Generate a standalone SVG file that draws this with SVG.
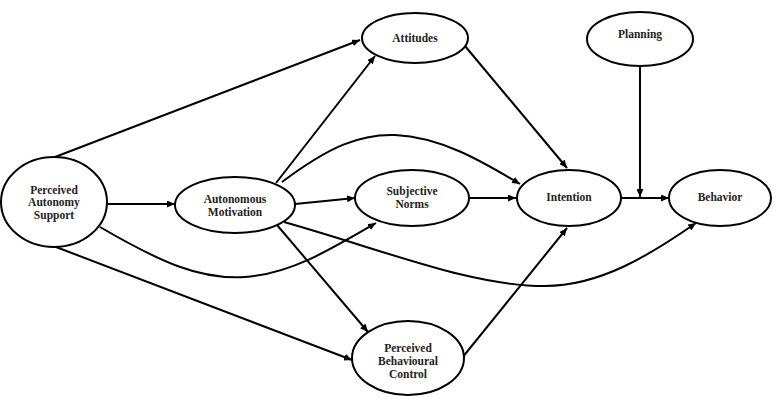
<svg xmlns="http://www.w3.org/2000/svg" width="776" height="403" viewBox="0 0 776 403">
<style>
.node ellipse{fill:#fff;stroke:#000;stroke-width:2}
.node text{font-family:"Liberation Serif","Times New Roman",serif;font-weight:bold;font-size:11.5px;fill:#222;text-anchor:middle}
.edge{fill:none;stroke:#000;stroke-width:2;marker-end:url(#arr)}
</style>
<defs>
<marker id="arr" markerUnits="userSpaceOnUse" markerWidth="8" markerHeight="7" refX="8" refY="3.5" orient="auto">
<path d="M0,0 L8,3.5 L0,7 z" fill="#000"/>
</marker>
</defs>
<rect width="776" height="403" fill="#fff"/>
<g id="connectors">
<path class="edge" d="M55,157 L360,40"/>
<path class="edge" d="M108,204 L175,204"/>
<path class="edge" d="M100,227 C160,262 200,280 245,277 C290,274 330,250 376,223"/>
<path class="edge" d="M56,247 L352,360"/>
<path class="edge" d="M276,183 L375,56"/>
<path class="edge" d="M282,182 C330,146 360,134 395,135 C440,137 480,160 520,184"/>
<path class="edge" d="M295,204 L355,198"/>
<path class="edge" d="M277,225 L368,332"/>
<path class="edge" d="M284,222 C390,252 470,286 545,286 C600,286 650,255 696,223"/>
<path class="edge" d="M465,46 L567,168"/>
<path class="edge" d="M469,198 L516,198"/>
<path class="edge" d="M462,358 L567,228"/>
<path class="edge" d="M622,198 L669,198"/>
<path class="edge" d="M640,66 L640,197"/>
</g>
<g id="pas" class="node">
<ellipse cx="54" cy="202" rx="53" ry="45"/>
<text x="54" y="194">Perceived</text>
<text x="54" y="206">Autonomy</text>
<text x="54" y="219">Support</text>
</g>
<g id="am" class="node">
<ellipse cx="235" cy="205" rx="60" ry="28"/>
<text x="235" y="203">Autonomous</text>
<text x="235" y="216">Motivation</text>
</g>
<g id="attitudes" class="node">
<ellipse cx="415" cy="38" rx="53" ry="25"/>
<text x="415" y="42">Attitudes</text>
</g>
<g id="planning" class="node">
<ellipse cx="640" cy="39" rx="53" ry="27"/>
<text x="640" y="38">Planning</text>
</g>
<g id="sn" class="node">
<ellipse cx="412" cy="198" rx="57" ry="28"/>
<text x="412" y="195">Subjective</text>
<text x="412" y="208">Norms</text>
</g>
<g id="intention" class="node">
<ellipse cx="569" cy="198" rx="52" ry="28"/>
<text x="569" y="201">Intention</text>
</g>
<g id="behavior" class="node">
<ellipse cx="720" cy="198" rx="51" ry="28"/>
<text x="720" y="201">Behavior</text>
</g>
<g id="pbc" class="node">
<ellipse cx="408" cy="358" rx="56" ry="37"/>
<text x="408" y="352">Perceived</text>
<text x="408" y="365">Behavioural</text>
<text x="408" y="378">Control</text>
</g>
</svg>
